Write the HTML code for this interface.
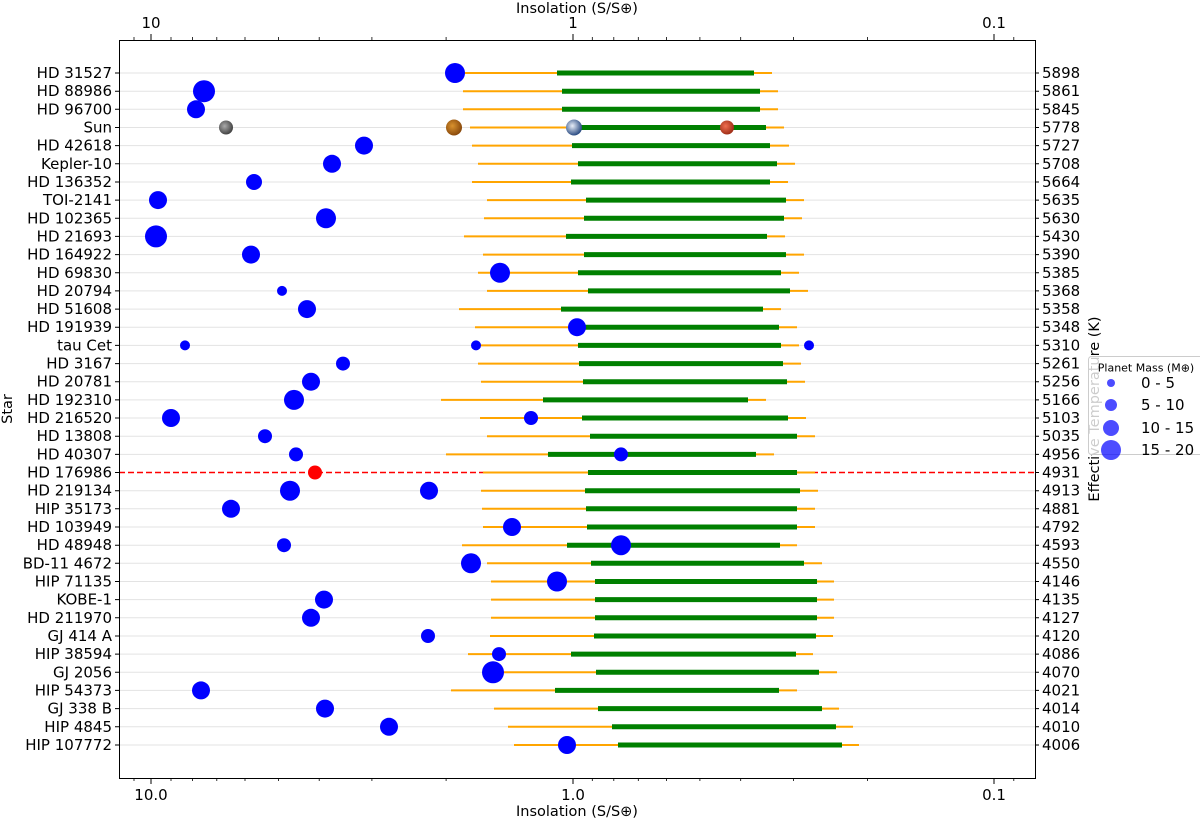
<!DOCTYPE html>
<html><head><meta charset="utf-8"><style>
html,body{margin:0;padding:0;background:#fff;}
svg{display:block;font-family:"DejaVu Sans","Liberation Sans",sans-serif;}
</style></head><body>
<svg width="1200" height="820" viewBox="0 0 1200 820" xmlns="http://www.w3.org/2000/svg">
<defs>
<radialGradient id="gm" cx="40%" cy="40%" r="60%"><stop offset="0" stop-color="#aaa"/><stop offset="1" stop-color="#444"/></radialGradient>
<radialGradient id="gv" cx="40%" cy="40%" r="60%"><stop offset="0" stop-color="#d9922e"/><stop offset="1" stop-color="#8a4a0c"/></radialGradient>
<radialGradient id="ge" cx="40%" cy="40%" r="60%"><stop offset="0" stop-color="#e8eef8"/><stop offset="1" stop-color="#2d4e84"/></radialGradient>
<radialGradient id="gr" cx="40%" cy="40%" r="60%"><stop offset="0" stop-color="#f07050"/><stop offset="1" stop-color="#a02e18"/></radialGradient>
</defs>
<g stroke="#e3e3e3" stroke-width="1">
<line x1="119" x2="1035" y1="73" y2="73"/><line x1="119" x2="1035" y1="91.2" y2="91.2"/><line x1="119" x2="1035" y1="109.3" y2="109.3"/><line x1="119" x2="1035" y1="127.5" y2="127.5"/><line x1="119" x2="1035" y1="145.6" y2="145.6"/><line x1="119" x2="1035" y1="163.8" y2="163.8"/><line x1="119" x2="1035" y1="182" y2="182"/><line x1="119" x2="1035" y1="200.1" y2="200.1"/><line x1="119" x2="1035" y1="218.3" y2="218.3"/><line x1="119" x2="1035" y1="236.4" y2="236.4"/><line x1="119" x2="1035" y1="254.6" y2="254.6"/><line x1="119" x2="1035" y1="272.8" y2="272.8"/><line x1="119" x2="1035" y1="290.9" y2="290.9"/><line x1="119" x2="1035" y1="309.1" y2="309.1"/><line x1="119" x2="1035" y1="327.2" y2="327.2"/><line x1="119" x2="1035" y1="345.4" y2="345.4"/><line x1="119" x2="1035" y1="363.6" y2="363.6"/><line x1="119" x2="1035" y1="381.7" y2="381.7"/><line x1="119" x2="1035" y1="399.9" y2="399.9"/><line x1="119" x2="1035" y1="418" y2="418"/><line x1="119" x2="1035" y1="436.2" y2="436.2"/><line x1="119" x2="1035" y1="454.4" y2="454.4"/><line x1="119" x2="1035" y1="490.7" y2="490.7"/><line x1="119" x2="1035" y1="508.8" y2="508.8"/><line x1="119" x2="1035" y1="527" y2="527"/><line x1="119" x2="1035" y1="545.2" y2="545.2"/><line x1="119" x2="1035" y1="563.3" y2="563.3"/><line x1="119" x2="1035" y1="581.5" y2="581.5"/><line x1="119" x2="1035" y1="599.6" y2="599.6"/><line x1="119" x2="1035" y1="617.8" y2="617.8"/><line x1="119" x2="1035" y1="636" y2="636"/><line x1="119" x2="1035" y1="654.1" y2="654.1"/><line x1="119" x2="1035" y1="672.3" y2="672.3"/><line x1="119" x2="1035" y1="690.4" y2="690.4"/><line x1="119" x2="1035" y1="708.6" y2="708.6"/><line x1="119" x2="1035" y1="726.8" y2="726.8"/><line x1="119" x2="1035" y1="745" y2="745"/>
</g>
<line x1="119" x2="1035" y1="472.5" y2="472.5" stroke="#ff0000" stroke-width="1.5" stroke-dasharray="6,3"/>
<g stroke="#ffa500" stroke-width="2">
<line x1="455" x2="772" y1="73" y2="73"/><line x1="463" x2="778" y1="91.2" y2="91.2"/><line x1="463" x2="778" y1="109.3" y2="109.3"/><line x1="470" x2="784" y1="127.5" y2="127.5"/><line x1="472" x2="789" y1="145.6" y2="145.6"/><line x1="478" x2="795" y1="163.8" y2="163.8"/><line x1="472" x2="788" y1="182" y2="182"/><line x1="487" x2="804" y1="200.1" y2="200.1"/><line x1="484" x2="802" y1="218.3" y2="218.3"/><line x1="464" x2="785" y1="236.4" y2="236.4"/><line x1="483" x2="804" y1="254.6" y2="254.6"/><line x1="478" x2="799" y1="272.8" y2="272.8"/><line x1="487" x2="808" y1="290.9" y2="290.9"/><line x1="459" x2="781" y1="309.1" y2="309.1"/><line x1="475" x2="797" y1="327.2" y2="327.2"/><line x1="476" x2="799" y1="345.4" y2="345.4"/><line x1="478" x2="801" y1="363.6" y2="363.6"/><line x1="481" x2="805" y1="381.7" y2="381.7"/><line x1="441" x2="766" y1="399.9" y2="399.9"/><line x1="480" x2="806" y1="418" y2="418"/><line x1="487" x2="815" y1="436.2" y2="436.2"/><line x1="446" x2="774" y1="454.4" y2="454.4"/><line x1="483" x2="815" y1="472.5" y2="472.5"/><line x1="481" x2="818" y1="490.7" y2="490.7"/><line x1="482" x2="815" y1="508.8" y2="508.8"/><line x1="483" x2="815" y1="527" y2="527"/><line x1="462" x2="797" y1="545.2" y2="545.2"/><line x1="487" x2="822" y1="563.3" y2="563.3"/><line x1="491" x2="834" y1="581.5" y2="581.5"/><line x1="491" x2="834" y1="599.6" y2="599.6"/><line x1="491" x2="834" y1="617.8" y2="617.8"/><line x1="490" x2="833" y1="636" y2="636"/><line x1="468" x2="813" y1="654.1" y2="654.1"/><line x1="492" x2="837" y1="672.3" y2="672.3"/><line x1="451" x2="797" y1="690.4" y2="690.4"/><line x1="494" x2="839" y1="708.6" y2="708.6"/><line x1="508" x2="853" y1="726.8" y2="726.8"/><line x1="514" x2="859" y1="745" y2="745"/>
</g>
<g stroke="#008000" stroke-width="5">
<line x1="557" x2="754" y1="73" y2="73"/><line x1="562" x2="760" y1="91.2" y2="91.2"/><line x1="562" x2="760" y1="109.3" y2="109.3"/><line x1="575" x2="766" y1="127.5" y2="127.5"/><line x1="572" x2="770" y1="145.6" y2="145.6"/><line x1="578" x2="777" y1="163.8" y2="163.8"/><line x1="571" x2="770" y1="182" y2="182"/><line x1="586" x2="786" y1="200.1" y2="200.1"/><line x1="584" x2="784" y1="218.3" y2="218.3"/><line x1="566" x2="767" y1="236.4" y2="236.4"/><line x1="584" x2="786" y1="254.6" y2="254.6"/><line x1="578" x2="781" y1="272.8" y2="272.8"/><line x1="588" x2="790" y1="290.9" y2="290.9"/><line x1="561" x2="763" y1="309.1" y2="309.1"/><line x1="577" x2="779" y1="327.2" y2="327.2"/><line x1="578" x2="781" y1="345.4" y2="345.4"/><line x1="579" x2="783" y1="363.6" y2="363.6"/><line x1="583" x2="787" y1="381.7" y2="381.7"/><line x1="543" x2="748" y1="399.9" y2="399.9"/><line x1="582" x2="788" y1="418" y2="418"/><line x1="590" x2="797" y1="436.2" y2="436.2"/><line x1="548" x2="756" y1="454.4" y2="454.4"/><line x1="588" x2="797" y1="472.5" y2="472.5"/><line x1="585" x2="800" y1="490.7" y2="490.7"/><line x1="586" x2="797" y1="508.8" y2="508.8"/><line x1="587" x2="797" y1="527" y2="527"/><line x1="567" x2="780" y1="545.2" y2="545.2"/><line x1="591" x2="804" y1="563.3" y2="563.3"/><line x1="595" x2="817" y1="581.5" y2="581.5"/><line x1="595" x2="817" y1="599.6" y2="599.6"/><line x1="595" x2="817" y1="617.8" y2="617.8"/><line x1="594" x2="816" y1="636" y2="636"/><line x1="571" x2="796" y1="654.1" y2="654.1"/><line x1="596" x2="819" y1="672.3" y2="672.3"/><line x1="555" x2="779" y1="690.4" y2="690.4"/><line x1="598" x2="822" y1="708.6" y2="708.6"/><line x1="612" x2="836" y1="726.8" y2="726.8"/><line x1="618" x2="842" y1="745" y2="745"/>
</g>
<g fill="#0000ff">
<circle cx="455" cy="73" r="10"/><circle cx="204" cy="91.2" r="11"/><circle cx="196" cy="109.3" r="9"/>
<circle cx="364" cy="145.6" r="9"/><circle cx="332" cy="163.8" r="9"/><circle cx="254" cy="182" r="8"/>
<circle cx="158" cy="200.1" r="9"/><circle cx="326" cy="218.3" r="10"/><circle cx="156" cy="236.4" r="11"/>
<circle cx="251" cy="254.6" r="9"/><circle cx="500" cy="272.8" r="10"/><circle cx="282" cy="290.9" r="5"/>
<circle cx="307" cy="309.1" r="9"/><circle cx="577" cy="327.2" r="9"/>
<circle cx="185" cy="345.4" r="5"/><circle cx="476" cy="345.4" r="5"/><circle cx="809" cy="345.4" r="5"/>
<circle cx="343" cy="363.6" r="7"/><circle cx="311" cy="381.7" r="9"/><circle cx="294" cy="399.9" r="10"/>
<circle cx="171" cy="418" r="9"/><circle cx="531" cy="418" r="7"/><circle cx="265" cy="436.2" r="7"/>
<circle cx="296" cy="454.4" r="7"/><circle cx="621" cy="454.4" r="7"/>
<circle cx="290" cy="490.7" r="10"/><circle cx="429" cy="490.7" r="9"/><circle cx="231" cy="508.8" r="9"/>
<circle cx="512" cy="527" r="9"/><circle cx="284" cy="545.2" r="7"/><circle cx="621" cy="545.2" r="10"/>
<circle cx="471" cy="563.3" r="10"/><circle cx="557" cy="581.5" r="10"/><circle cx="324" cy="599.6" r="9"/>
<circle cx="311" cy="617.8" r="9"/><circle cx="428" cy="636" r="7"/><circle cx="499" cy="654.1" r="7"/>
<circle cx="493" cy="672.3" r="11"/><circle cx="201" cy="690.4" r="9"/><circle cx="325" cy="708.6" r="9"/>
<circle cx="389" cy="726.8" r="9"/><circle cx="567" cy="745" r="9"/>
</g>
<circle cx="315" cy="472.5" r="7" fill="#ff0000"/>
<circle cx="226" cy="127.5" r="7" fill="url(#gm)"/>
<circle cx="454" cy="127.5" r="8" fill="url(#gv)"/>
<circle cx="574" cy="127.5" r="8" fill="url(#ge)"/>
<circle cx="727" cy="127.5" r="7" fill="url(#gr)"/>
<rect x="119.5" y="40.5" width="916" height="738" fill="none" stroke="#000" stroke-width="1"/>
<g stroke="#000" stroke-width="1">
<line x1="151" x2="151" y1="778" y2="784"/><line x1="573" x2="573" y1="778" y2="784"/><line x1="994" x2="994" y1="778" y2="784"/>
<line x1="151" x2="151" y1="40" y2="34"/><line x1="573" x2="573" y1="40" y2="34"/><line x1="994" x2="994" y1="40" y2="34"/>
</g>
<g stroke="#000" stroke-width="0.8">
<path d="M134 778v3M171 778v3M192.4 778v3M216.8 778v3M245 778v3M278.4 778v3M319.2 778v3M371.9 778v3M446.1 778v3M592.3 778v3M613.8 778v3M638.3 778v3M666.5 778v3M699.9 778v3M740.7 778v3M793.4 778v3M867.6 778v3M1013.8 778v3"/>
<path d="M134 40v-3M171 40v-3M192.4 40v-3M216.8 40v-3M245 40v-3M278.4 40v-3M319.2 40v-3M371.9 40v-3M446.1 40v-3M592.3 40v-3M613.8 40v-3M638.3 40v-3M666.5 40v-3M699.9 40v-3M740.7 40v-3M793.4 40v-3M867.6 40v-3M1013.8 40v-3"/>
</g>
<g stroke="#000" stroke-width="1">
<path d="M115 73h4M115 91.2h4M115 109.3h4M115 127.5h4M115 145.6h4M115 163.8h4M115 182h4M115 200.1h4M115 218.3h4M115 236.4h4M115 254.6h4M115 272.8h4M115 290.9h4M115 309.1h4M115 327.2h4M115 345.4h4M115 363.6h4M115 381.7h4M115 399.9h4M115 418h4M115 436.2h4M115 454.4h4M115 472.5h4M115 490.7h4M115 508.8h4M115 527h4M115 545.2h4M115 563.3h4M115 581.5h4M115 599.6h4M115 617.8h4M115 636h4M115 654.1h4M115 672.3h4M115 690.4h4M115 708.6h4M115 726.8h4M115 745h4"/>
<path d="M1035 73h4M1035 91.2h4M1035 109.3h4M1035 127.5h4M1035 145.6h4M1035 163.8h4M1035 182h4M1035 200.1h4M1035 218.3h4M1035 236.4h4M1035 254.6h4M1035 272.8h4M1035 290.9h4M1035 309.1h4M1035 327.2h4M1035 345.4h4M1035 363.6h4M1035 381.7h4M1035 399.9h4M1035 418h4M1035 436.2h4M1035 454.4h4M1035 472.5h4M1035 490.7h4M1035 508.8h4M1035 527h4M1035 545.2h4M1035 563.3h4M1035 581.5h4M1035 599.6h4M1035 617.8h4M1035 636h4M1035 654.1h4M1035 672.3h4M1035 690.4h4M1035 708.6h4M1035 726.8h4M1035 745h4"/>
</g>
<g font-size="15" fill="#000" text-anchor="end" dominant-baseline="central">
<text x="112" y="73">HD 31527</text><text x="112" y="91.2">HD 88986</text><text x="112" y="109.3">HD 96700</text><text x="112" y="127.5">Sun</text><text x="112" y="145.6">HD 42618</text><text x="112" y="163.8">Kepler-10</text><text x="112" y="182">HD 136352</text><text x="112" y="200.1">TOI-2141</text><text x="112" y="218.3">HD 102365</text><text x="112" y="236.4">HD 21693</text><text x="112" y="254.6">HD 164922</text><text x="112" y="272.8">HD 69830</text><text x="112" y="290.9">HD 20794</text><text x="112" y="309.1">HD 51608</text><text x="112" y="327.2">HD 191939</text><text x="112" y="345.4">tau Cet</text><text x="112" y="363.6">HD 3167</text><text x="112" y="381.7">HD 20781</text><text x="112" y="399.9">HD 192310</text><text x="112" y="418">HD 216520</text><text x="112" y="436.2">HD 13808</text><text x="112" y="454.4">HD 40307</text><text x="112" y="472.5">HD 176986</text><text x="112" y="490.7">HD 219134</text><text x="112" y="508.8">HIP 35173</text><text x="112" y="527">HD 103949</text><text x="112" y="545.2">HD 48948</text><text x="112" y="563.3">BD-11 4672</text><text x="112" y="581.5">HIP 71135</text><text x="112" y="599.6">KOBE-1</text><text x="112" y="617.8">HD 211970</text><text x="112" y="636">GJ 414 A</text><text x="112" y="654.1">HIP 38594</text><text x="112" y="672.3">GJ 2056</text><text x="112" y="690.4">HIP 54373</text><text x="112" y="708.6">GJ 338 B</text><text x="112" y="726.8">HIP 4845</text><text x="112" y="745">HIP 107772</text>
</g>
<g font-size="15" fill="#000" text-anchor="start" dominant-baseline="central">
<text x="1042" y="73">5898</text><text x="1042" y="91.2">5861</text><text x="1042" y="109.3">5845</text><text x="1042" y="127.5">5778</text><text x="1042" y="145.6">5727</text><text x="1042" y="163.8">5708</text><text x="1042" y="182">5664</text><text x="1042" y="200.1">5635</text><text x="1042" y="218.3">5630</text><text x="1042" y="236.4">5430</text><text x="1042" y="254.6">5390</text><text x="1042" y="272.8">5385</text><text x="1042" y="290.9">5368</text><text x="1042" y="309.1">5358</text><text x="1042" y="327.2">5348</text><text x="1042" y="345.4">5310</text><text x="1042" y="363.6">5261</text><text x="1042" y="381.7">5256</text><text x="1042" y="399.9">5166</text><text x="1042" y="418">5103</text><text x="1042" y="436.2">5035</text><text x="1042" y="454.4">4956</text><text x="1042" y="472.5">4931</text><text x="1042" y="490.7">4913</text><text x="1042" y="508.8">4881</text><text x="1042" y="527">4792</text><text x="1042" y="545.2">4593</text><text x="1042" y="563.3">4550</text><text x="1042" y="581.5">4146</text><text x="1042" y="599.6">4135</text><text x="1042" y="617.8">4127</text><text x="1042" y="636">4120</text><text x="1042" y="654.1">4086</text><text x="1042" y="672.3">4070</text><text x="1042" y="690.4">4021</text><text x="1042" y="708.6">4014</text><text x="1042" y="726.8">4010</text><text x="1042" y="745">4006</text>
</g>
<g font-size="15" fill="#000" text-anchor="middle">
<text x="151" y="800">10.0</text><text x="573" y="800">1.0</text><text x="994" y="800">0.1</text>
<text x="151" y="28">10</text><text x="573" y="28">1</text><text x="994" y="28">0.1</text>
</g>
<g font-size="14.5" fill="#000" text-anchor="middle">
<text x="577" y="816">Insolation (S/S⊕)</text>
<text x="577" y="13">Insolation (S/S⊕)</text>
<text transform="translate(12,409) rotate(-90)">Star</text>
<text transform="translate(1099,409) rotate(-90)">Effective Temperature (K)</text>
</g>
<rect x="1088.5" y="356.5" width="115" height="98" rx="3" fill="#fff" fill-opacity="0.8" stroke="#ccc"/>
<text x="1146" y="368" font-size="11" text-anchor="middle" dominant-baseline="central">Planet Mass (M⊕)</text>
<g fill="#0000ff" fill-opacity="0.7">
<circle cx="1111" cy="383" r="4"/><circle cx="1111" cy="405" r="6"/><circle cx="1111" cy="428" r="8"/><circle cx="1111" cy="450" r="10"/>
</g>
<g font-size="15" dominant-baseline="central">
<text x="1141" y="383">0 - 5</text><text x="1141" y="405">5 - 10</text><text x="1141" y="428">10 - 15</text><text x="1141" y="450">15 - 20</text>
</g>
</svg>
</body></html>
